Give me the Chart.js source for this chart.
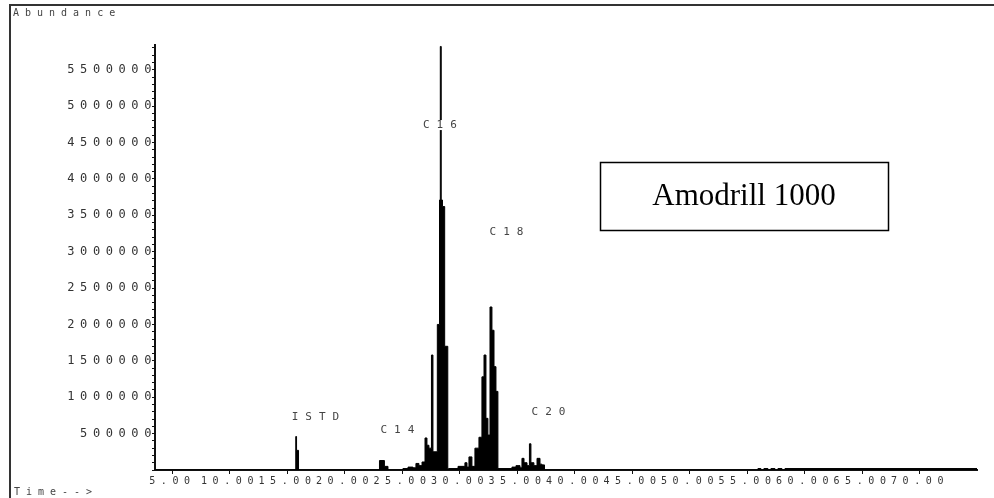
<!DOCTYPE html>
<html><head><meta charset="utf-8">
<script src="https://cdn.jsdelivr.net/npm/chart.js@4/dist/chart.umd.min.js"></script>
<style>
html,body{margin:0;padding:0;background:#fff;overflow:hidden;}
#wrap{position:relative;width:994px;height:498px;overflow:hidden;}
#frame{position:absolute;left:9px;top:4px;width:1000px;height:600px;border-left:2px solid #333;border-top:2px solid #333;}
canvas{position:absolute;left:0;top:0;}
</style></head><body>
<div id="wrap"><div id="frame"></div><canvas id="c" width="994" height="498"></canvas></div>
<script>
// ---- data (retention time in minutes, abundance) ----
const times = [3.48,15.72,15.79,15.96,23.00,23.43,23.74,25.04,25.48,25.91,26.17,26.43,26.70,26.96,27.13,27.30,27.52,27.65,28.03,28.22,28.29,28.37,28.48,28.67,28.94,29.00,29.83,30.43,30.61,30.78,31.04,31.30,31.65,31.91,32.09,32.26,32.43,32.61,32.78,32.96,33.13,33.30,34.52,34.87,35.22,35.39,35.57,35.83,36.04,36.17,36.43,36.70,36.96,37.13,37.35,55.91,56.17,56.43,56.78,57.04,57.39,57.65,58.00,58.26,74.96];
const abundance = [0,460000,270000,0,130000,50000,0,20000,40000,30000,90000,60000,110000,440000,340000,300000,1580000,250000,2000000,3710000,5820000,3710000,3620000,1700000,0,20000,50000,100000,40000,180000,50000,300000,450000,1280000,1580000,710000,480000,2240000,1920000,1420000,1080000,20000,40000,60000,30000,160000,100000,60000,360000,100000,60000,160000,80000,70000,0,20000,0,20000,0,20000,0,20000,0,20000,0];
const xTickValues = [5,10,15,20,25,30,35,40,45,50,55,60,65,70];
const yLabelValues = [500000,1000000,1500000,2000000,2500000,3000000,3500000,4000000,4500000,5000000,5500000];
const peakNames = ['ISTD','C14','C16','C18','C20'];
const peakTimes = [17.48,24.6,28.3,34.09,37.74];
const peakHeights = [730000,550000,4740000,3270000,800000];
const sampleName = 'Amodrill 1000';
const yTitle = 'Abundance';
const xTitle = 'Time-->';

const points = times.map((t,i)=>({x:t,y:abundance[i]}));

const decor = {
  id:'decor',
  beforeDraw(chart){ chart.ctx.letterSpacing = '5.6px'; },
  afterDraw(chart){
    const ctx = chart.ctx, xs = chart.scales.x, ys = chart.scales.y;
    ctx.save();
    ctx.letterSpacing = '7px';
    ctx.font = '11px "DejaVu Sans Mono"';
    ctx.textAlign = 'center'; ctx.textBaseline = 'middle';
    peakNames.forEach((n,i)=>{
      const px = xs.getPixelForValue(peakTimes[i]) + 3, py = ys.getPixelForValue(peakHeights[i]);
      const w = ctx.measureText(n).width;
      ctx.fillStyle = '#fff';
      ctx.fillRect(px - w/2 - 2, py - 5, w - 3, 10);
      ctx.fillStyle = '#444';
      ctx.fillText(n, px, py);
    });
    ctx.letterSpacing = '6px';
    ctx.textAlign = 'left';
    ctx.font = '10px "DejaVu Sans Mono"';
    ctx.fillText(yTitle, 13, 13);
    ctx.fillText(xTitle, 14, 492);
    ctx.restore();
    ctx.save();
    ctx.letterSpacing = '0px';
    ctx.strokeStyle = '#000'; ctx.lineWidth = 1.5;
    ctx.strokeRect(600.5, 162.5, 288, 68);
    ctx.fillStyle = '#000';
    ctx.font = '31px "Liberation Serif"';
    ctx.textAlign = 'center'; ctx.textBaseline = 'alphabetic';
    ctx.fillText(sampleName, 744, 205);
    ctx.restore();
  }
};

new Chart(document.getElementById('c'), {
  type:'line',
  data:{datasets:[{data:points, stepped:true, fill:'origin', borderColor:'#000', backgroundColor:'#000', borderWidth:1, pointRadius:0}]},
  options:{
    responsive:false, animation:false,
    layout:{padding:{top:45,right:17,left:0,bottom:0}},
    plugins:{legend:{display:false}, tooltip:{enabled:false}},
    scales:{
      x:{type:'linear', min:3.48, max:74.96,
        afterBuildTicks(s){ s.ticks = xTickValues.map(v=>({value:v})); },
        afterFit(s){ s.height = 28; },
        border:{display:true,color:'#111',width:2},
        grid:{display:true, drawOnChartArea:false, drawTicks:true, tickLength:4, color:'#111'},
        ticks:{autoSkip:false, maxRotation:0, padding:1, color:'#333', font:{family:'DejaVu Sans Mono', size:10},
          callback:(v)=>Number(v).toFixed(2)}
      },
      y:{type:'linear', min:0, max:5840000,
        afterBuildTicks(s){ const t=[]; for(let v=0; v<=5800000; v+=100000) t.push({value:v}); s.ticks=t; },
        afterFit(s){ s.width = 155; },
        border:{display:true,color:'#111',width:2},
        grid:{display:true, drawOnChartArea:false, drawTicks:true, tickLength:3, color:'#111'},
        ticks:{autoSkip:false, padding:-5, color:'#333', font:{family:'DejaVu Sans Mono', size:12},
          callback:(v)=> yLabelValues.includes(v) ? String(v) : ''}
      }
    }
  },
  plugins:[decor]
});
</script>
</body></html>
